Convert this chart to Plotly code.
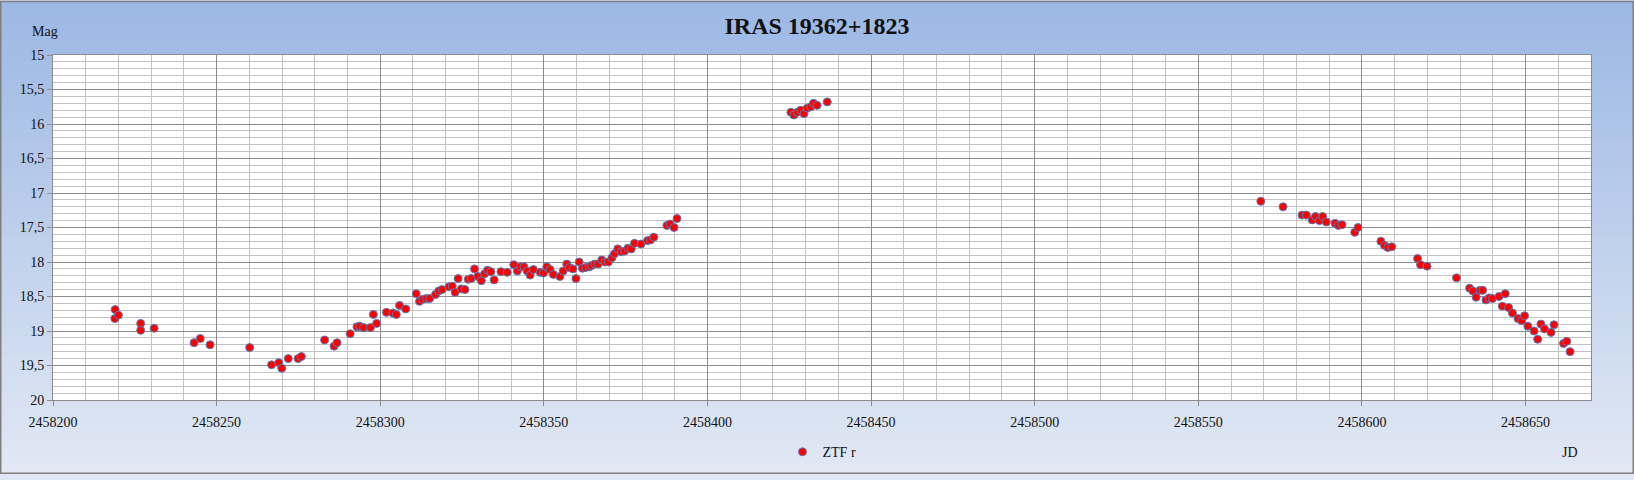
import plotly.graph_objects as go

# ZTF r photometry
jd_2018a = [2458218.9, 2458219.0, 2458220.0, 2458226.8, 2458226.8, 2458230.9, 2458243.1, 2458245.0,
            2458248.0, 2458260.1, 2458266.8, 2458269.0, 2458269.9, 2458271.9, 2458274.9, 2458275.9,
            2458283.0, 2458285.9, 2458286.8, 2458290.8, 2458292.9, 2458293.7, 2458294.9, 2458297.0,
            2458297.9, 2458298.9, 2458301.9]
mag_2018a = [18.82, 18.69, 18.77, 18.89, 18.99, 18.96, 19.17, 19.11,
             19.20, 19.24, 19.49, 19.46, 19.54, 19.40, 19.40, 19.37,
             19.13, 19.22, 19.17, 19.04, 18.94, 18.93, 18.95, 18.95,
             18.76, 18.89, 18.73]

jd_2018b = [2458303.9, 2458304.9, 2458305.9, 2458307.8, 2458311.0, 2458312.0, 2458313.0, 2458314.1,
            2458315.1, 2458316.9, 2458317.9, 2458318.9, 2458321.0, 2458322.0, 2458322.9, 2458323.8,
            2458324.8, 2458325.9, 2458326.9, 2458327.8, 2458328.8, 2458329.8, 2458330.9, 2458331.9,
            2458332.8, 2458333.8, 2458334.8, 2458336.9, 2458338.8, 2458340.8, 2458341.9, 2458342.9,
            2458343.9, 2458344.9, 2458345.8, 2458346.8, 2458348.9, 2458349.9, 2458350.9, 2458351.9,
            2458352.9, 2458354.9, 2458355.9, 2458357.0, 2458357.8, 2458358.9, 2458359.8, 2458360.8,
            2458361.8, 2458362.8, 2458363.9, 2458364.6, 2458365.6, 2458366.6, 2458367.7, 2458368.7,
            2458369.7, 2458370.8, 2458371.6, 2458372.6, 2458373.7, 2458374.7, 2458375.7, 2458376.7,
            2458377.7, 2458379.7, 2458381.7, 2458382.6, 2458383.6, 2458387.6, 2458388.6, 2458389.8,
            2458390.7]
mag_2018b = [18.74, 18.76, 18.63, 18.68, 18.46, 18.57, 18.54, 18.53,
             18.53, 18.47, 18.42, 18.40, 18.36, 18.35, 18.44, 18.24,
             18.39, 18.40, 18.25, 18.24, 18.10, 18.21, 18.27, 18.17,
             18.12, 18.14, 18.26, 18.14, 18.15, 18.04, 18.13, 18.07,
             18.07, 18.13, 18.19, 18.11, 18.15, 18.16, 18.07, 18.11,
             18.18, 18.21, 18.13, 18.03, 18.08, 18.10, 18.24, 18.00,
             18.09, 18.08, 18.07, 18.05, 18.03, 18.03, 17.97, 18.00,
             18.00, 17.94, 17.88, 17.81, 17.85, 17.84, 17.80, 17.81,
             17.73, 17.74, 17.69, 17.68, 17.64, 17.47, 17.45, 17.50,
             17.37]

jd_2018c = [2458425.5, 2458426.4, 2458427.5, 2458428.5, 2458429.5, 2458430.5, 2458431.6, 2458432.4,
            2458433.5, 2458436.6]
mag_2018c = [15.83, 15.87, 15.83, 15.80, 15.85, 15.77, 15.75, 15.70,
             15.73, 15.68]

jd_2019 = [2458569.1, 2458575.9, 2458581.7, 2458583.0, 2458584.8, 2458585.8, 2458587.0, 2458588.0,
           2458589.1, 2458591.8, 2458592.8, 2458593.9, 2458597.8, 2458598.8, 2458605.8, 2458606.9,
           2458607.9, 2458609.1, 2458617.0, 2458617.9, 2458619.9, 2458628.9, 2458632.9, 2458633.9,
           2458634.9, 2458636.1, 2458636.9, 2458637.9, 2458638.9, 2458639.9, 2458641.9, 2458642.9,
           2458643.8, 2458644.8, 2458646.0, 2458647.7, 2458648.8, 2458649.7, 2458650.7, 2458652.6,
           2458653.7, 2458654.7, 2458655.8, 2458657.8, 2458658.7, 2458661.6, 2458662.6, 2458663.6]
mag_2019 = [17.12, 17.20, 17.32, 17.32, 17.39, 17.34, 17.40, 17.34,
            17.42, 17.44, 17.47, 17.46, 17.57, 17.50, 17.70, 17.76,
            17.79, 17.78, 17.95, 18.04, 18.06, 18.23, 18.38, 18.42,
            18.51, 18.41, 18.41, 18.55, 18.52, 18.53, 18.50, 18.64,
            18.46, 18.66, 18.74, 18.82, 18.85, 18.78, 18.93, 19.00,
            19.12, 18.90, 18.97, 19.02, 18.91, 19.18, 19.15, 19.30]

jd = jd_2018a + jd_2018b + jd_2018c + jd_2019
mag = mag_2018a + mag_2018b + mag_2018c + mag_2019

W, H = 1634, 480
L, R, T, B = 53, 43, 55, 75
pw, ph = W - L - R, H - T - B

def px(x):
    return (x - L) / pw

def py(y):
    return (H - B - y) / ph

font = "Liberation Serif, Times New Roman, serif"

fig = go.Figure()
fig.add_trace(go.Scatter(x=jd, y=mag, mode="markers", name="ZTF r",
                         marker=dict(color="#ff0000", size=8, line=dict(color="#4f7fbf", width=1))))

# background gradient, top blue to pale at the bottom
shapes = []
top, bot = (156, 184, 228), (225, 232, 244)
n = 48
for i in range(n):
    f = i / (n - 1)
    c = tuple(round(top[k] + (bot[k] - top[k]) * f) for k in range(3))
    y0 = i * H / n
    y1 = (i + 1) * H / n + 1
    shapes.append(dict(type="rect", xref="paper", yref="paper", layer="below",
                       x0=px(0), x1=px(W), y0=py(y1), y1=py(y0),
                       fillcolor="rgb(%d,%d,%d)" % c, line=dict(width=0)))
shapes.append(dict(type="rect", xref="x domain", yref="y domain", layer="below",
                   x0=0, x1=1, y0=0, y1=1, fillcolor="white", line=dict(width=0)))
shapes.append(dict(type="rect", xref="paper", yref="paper", layer="above",
                   x0=px(0.75), x1=px(W - 0.75), y0=py(H - 0.75), y1=py(0.75),
                   line=dict(color="#7f7f7f", width=1.5)))

fig.update_layout(
    width=W, height=H,
    margin=dict(l=L, r=R, t=T, b=B),
    paper_bgcolor="#dfe6f3", plot_bgcolor="white",
    separators=", ",
    font=dict(family=font, size=14, color="#111111"),
    title=dict(text="<b>IRAS 19362+1823</b>", x=0.5, xanchor="center", y=1 - 26 / H,
               yanchor="middle", font=dict(family=font, size=24, color="#111111")),
    shapes=shapes,
    showlegend=True,
    legend=dict(orientation="h", x=0.5, xanchor="center", y=py(458), yanchor="middle",
                bgcolor="rgba(0,0,0,0)", font=dict(size=14), itemwidth=30),
    annotations=[
        dict(text="Mag", x=px(45), y=py(31), xref="paper", yref="paper",
             xanchor="center", yanchor="middle", showarrow=False, font=dict(size=14)),
        dict(text="JD", x=px(1570), y=py(458), xref="paper", yref="paper",
             xanchor="center", yanchor="middle", showarrow=False, font=dict(size=14)),
    ],
)

fig.update_xaxes(range=[2458200, 2458670], tick0=2458200, dtick=50, tickformat="d",
                 showgrid=True, gridcolor="#8c8c8c", gridwidth=1,
                 minor=dict(dtick=10, showgrid=True, gridcolor="#c3c3c3", gridwidth=1),
                 ticks="outside", ticklen=5, tickcolor="#8c8c8c",
                 showline=True, linecolor="#8c8c8c", linewidth=1, mirror=True,
                 zeroline=False, ticklabelstandoff=4)
fig.update_yaxes(range=[20, 15], tick0=15, dtick=0.5,
                 showgrid=True, gridcolor="#8c8c8c", gridwidth=1,
                 minor=dict(dtick=0.1, showgrid=True, gridcolor="#c3c3c3", gridwidth=1),
                 ticks="outside", ticklen=5, tickcolor="#8c8c8c",
                 showline=True, linecolor="#8c8c8c", linewidth=1, mirror=True,
                 zeroline=False)

# page body has an 8px default margin; drop it so the chart sits at the window edge
fig.write_html("out.html", config={"displayModeBar": False},
               post_script="document.body.style.margin='0';document.body.style.overflow='hidden';")
